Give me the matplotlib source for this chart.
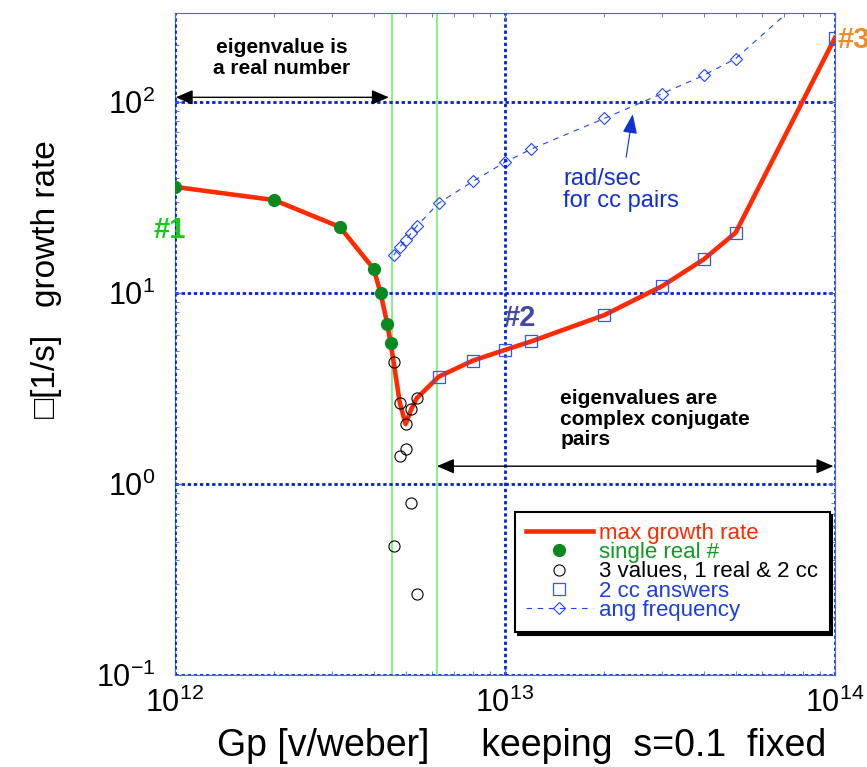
import matplotlib
matplotlib.use('Agg')
import matplotlib.pyplot as plt
from matplotlib.lines import Line2D

plt.rcParams['font.family'] = ['Liberation Sans', 'DejaVu Sans']
plt.rcParams['mathtext.default'] = 'regular'
plt.rcParams['axes.unicode_minus'] = False

# single real eigenvalue (green dots)
gp_real = [1e12, 2e12, 3.16e12, 4e12, 4.2e12, 4.4e12, 4.5e12]
rate_real = [36, 30.7, 22.2, 13.4, 10.0, 6.9, 5.5]

# 3 values, 1 real & 2 cc (open circles)
gp_three = [4.6e12, 4.8e12, 5.0e12, 5.2e12, 5.4e12]
rate_three_hi = [4.35, 2.67, 2.06, 2.46, 2.81]
rate_three_lo = [0.475, 1.41, 1.52, 0.80, 0.265]

# 2 cc answers (open squares)
gp_cc = [6.3e12, 8e12, 1e13, 1.2e13, 2e13, 3e13, 4e13, 5e13, 1e14]
rate_cc = [3.65, 4.43, 5.04, 5.58, 7.67, 10.9, 15.0, 20.7, 217]

# angular frequency of cc pairs (diamonds)
gp_freq = [4.6e12, 4.8e12, 5.0e12, 5.2e12, 5.4e12, 6.3e12, 8e12, 1e13, 1.2e13,
           2e13, 3e13, 4e13, 5e13, 1e14]
ang_freq = [15.8, 17.4, 18.9, 20.6, 22.4, 29.6, 38.5, 48.5, 56.7,
            82.2, 111, 138, 169, 490]

# boundaries between regimes
gp_bounds = [4.55e12, 6.22e12]

gp_max = gp_real + gp_three + gp_cc
rate_max = rate_real + rate_three_hi + rate_cc

red = '#ff2a00'
green = '#0a8a1e'
blue = '#1a3ee0'
gridblue = '#0022dd'

fig = plt.figure(figsize=(8.67, 7.67), dpi=100)
ax = fig.add_axes([0.2018, 0.12, 0.7612, 0.8634])
ax.set_xscale('log')
ax.set_yscale('log')
ax.set_xlim(1e12, 1e14)
ax.set_ylim(0.1, 294)

for g in gp_bounds:
    ax.axvline(g, color='#90ee90', lw=1.5, zorder=1)

ax.plot(gp_max, rate_max, color=red, lw=3.3, zorder=3)
ax.plot(gp_real, rate_real, 'o', color=green, ms=8.5, zorder=4)
ax.plot(gp_three, rate_three_hi, 'o', mfc='none', mec='black', ms=8, mew=0.8, zorder=4)
ax.plot(gp_three, rate_three_lo, 'o', mfc='none', mec='black', ms=8, mew=0.8, zorder=4)
ax.plot(gp_cc, rate_cc, 's', mfc='none', mec='#3355ee', ms=8, mew=0.9, zorder=4)
ax.plot(gp_freq, ang_freq, '--D', color='#2244ee', lw=0.8, ms=6, mfc='none',
        mew=0.8, dashes=(5, 5), zorder=2)

# grid and frame
ax.grid(True, which='major', color=gridblue, ls=(0, (1.2, 1)), lw=2)
ax.set_axisbelow(False)
for s in ax.spines.values():
    s.set_color('#4466ee')
    s.set_linewidth(0.8)
ax.tick_params(which='both', direction='in', top=True, right=True, colors='#4466ee',
               labelcolor='black', labelsize=22)
ax.tick_params(which='major', length=5, width=0.8)
ax.tick_params(which='minor', length=3, width=0.6)
ax.tick_params(axis='x', pad=9)
ax.tick_params(axis='y', pad=14)

ax.set_xlabel('Gp [v/weber]     keeping  s=0.1  fixed', fontsize=27)
ax.set_ylabel('\u25a1[1/s]   growth rate', fontsize=24)
ax.xaxis.set_label_coords(0.526, -0.08)
ax.yaxis.set_label_coords(-0.171, 0.597)

# annotations
ax.annotate('', xy=(4.45e12, 106), xytext=(1.005e12, 106),
            arrowprops=dict(arrowstyle='<|-|>,head_length=0.7,head_width=0.3',
                            color='black', lw=1, shrinkA=0, shrinkB=0,
                            mutation_scale=15))
ax.text(2.11e12, 170, 'eigenvalue is\na real number', fontsize=15,
        fontweight='bold', ha='center', va='center', linespacing=1.1)

ax.annotate('', xy=(0.99e14, 1.24), xytext=(6.22e12, 1.24),
            arrowprops=dict(arrowstyle='<|-|>,head_length=0.7,head_width=0.3',
                            color='black', lw=1, shrinkA=0, shrinkB=0,
                            mutation_scale=15))
ax.text(1.47e13, 2.19, 'eigenvalues are\ncomplex conjugate\npairs', fontsize=15,
        fontweight='bold', ha='left', va='center', linespacing=1.1)

ax.text(1.5e13, 34.6, 'rad/sec\nfor cc pairs', fontsize=17, color='#1030d0',
        ha='left', va='center', linespacing=1.0)
ax.annotate('', xy=(2.44e13, 86.5), xytext=(2.33e13, 51.5),
            arrowprops=dict(arrowstyle='-|>,head_length=0.8,head_width=0.3',
                            color='#1030d0', lw=0.8, shrinkA=0, shrinkB=0,
                            mutation_scale=15))

ax.text(0.966e12, 21.4, '#1', fontsize=21, fontweight='bold', color='#11cc11',
        ha='center', va='center', clip_on=False)
ax.text(1.11e13, 7.4, '#2', fontsize=21, fontweight='bold', color='#4048a8',
        ha='center', va='center')
ax.text(1.02e14, 211, '#3', fontsize=21, fontweight='bold', color='#f08a24',
        ha='left', va='center', clip_on=False)

handles = [
    Line2D([], [], color=red, lw=3.3),
    Line2D([], [], ls='none', marker='o', color=green, ms=8.5),
    Line2D([], [], ls='none', marker='o', mfc='none', mec='black', ms=8, mew=0.8),
    Line2D([], [], ls='none', marker='s', mfc='none', mec='#3355ee', ms=8, mew=0.9),
    Line2D([], [], ls='--', marker='D', color='#2244ee', lw=0.8, ms=6, mfc='none',
           mew=0.8, dashes=(5, 5)),
]
labels = ['max growth rate', 'single real #', '3 values, 1 real & 2 cc',
          '2 cc answers', 'ang frequency']
leg = ax.legend(handles, labels, loc='lower left', bbox_to_anchor=(0.515, 0.065),
                borderaxespad=0, fontsize=16, labelspacing=-0.08, handlelength=3,
                handletextpad=0.3, borderpad=0.5, fancybox=False, framealpha=1,
                edgecolor='black', shadow={'color': 'black', 'alpha': 1},
                labelcolor=[red, '#119922', 'black', blue, blue])
leg.get_frame().set_linewidth(1.5)

fig.savefig('out.png', dpi=100)
